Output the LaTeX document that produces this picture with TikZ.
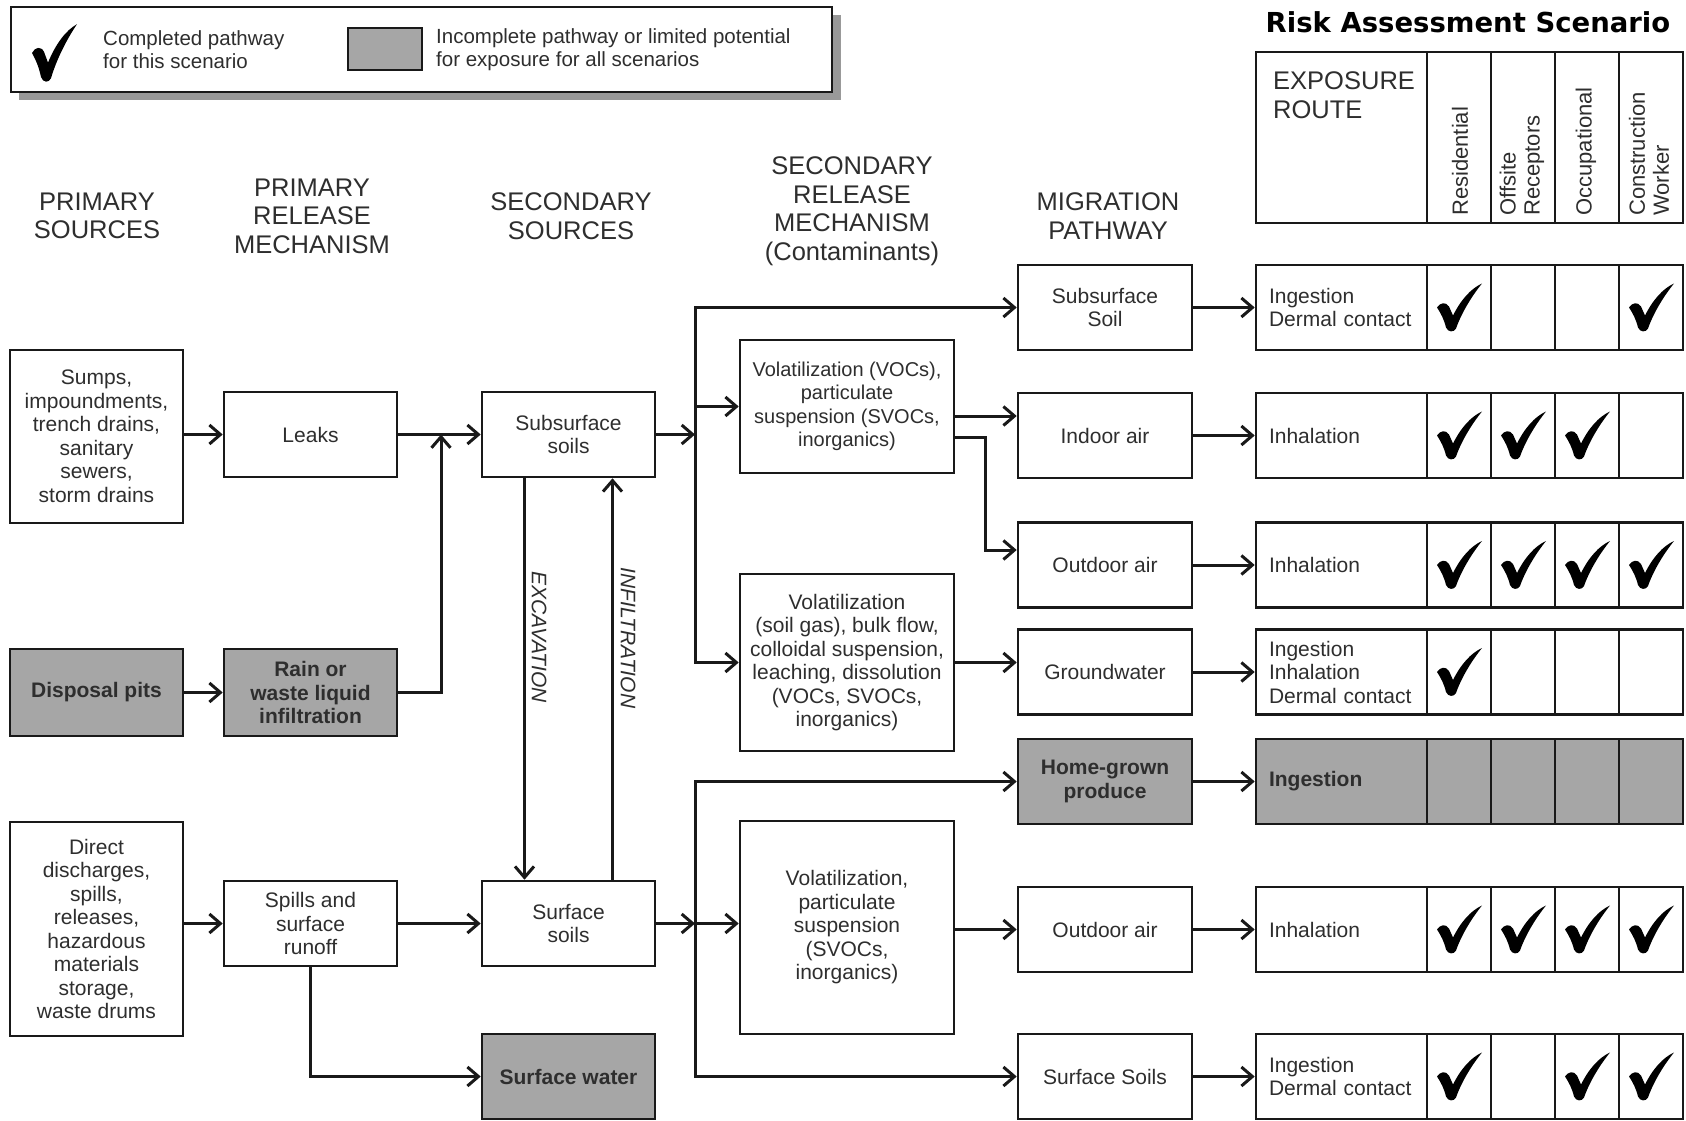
\documentclass[tikz,border=0pt]{standalone}
\usepackage{fontspec}
\setmainfont{Liberation Sans}
\newfontfamily\titlefont{DejaVu Sans}
\usetikzlibrary{arrows.meta}

\definecolor{pitgray}{HTML}{A6A6A6}
\definecolor{inkgray}{HTML}{2E2E2E}

\tikzset{
  chk/.pic={
    \fill[black] (-22,0) .. controls (-19,-5) and (-13,-6) .. (-10,-1)
      -- (-6,8) .. controls (2,-8) and (12,-19) .. (23,-24)
      .. controls (14,-13) and (3,4) .. (-3,21)
      .. controls (-5,25) and (-11,25) .. (-13,20)
      .. controls (-15,12) and (-18,6) .. (-22,0) -- cycle;
  }
}

\begin{document}
\begin{tikzpicture}[x=1pt, y=-1pt,
    box/.style={draw=black!90, line width=2.6pt, minimum width=173pt, minimum height=85pt, inner sep=1pt, align=center, text=inkgray, font=\fontsize{21pt}{23.5pt}\selectfont},
    shaded/.style={box, fill=pitgray, font=\fontsize{21pt}{23.5pt}\selectfont\bfseries},
    wide/.style={box, minimum width=214pt},
    route/.style={box, minimum width=171pt, text width=145pt, inner xsep=13pt, align=left},
    cell/.style={draw=black!90, line width=2.6pt, minimum width=64pt, minimum height=85pt, inner sep=0pt},
    head/.style={align=center, inner sep=0pt, text=inkgray, font=\fontsize{25.5pt}{28.5pt}\selectfont},
    colhead/.style={rotate=90, anchor=west, align=left, inner sep=0pt, text=inkgray, font=\fontsize{22pt}{24pt}\selectfont},
    note/.style={anchor=west, align=left, inner sep=0pt, text=inkgray, font=\fontsize{20.5pt}{23pt}\selectfont},
    tag/.style={rotate=-90, inner sep=0pt, text=inkgray, font=\fontsize{21pt}{23.5pt}\selectfont\itshape},
    arrow/.style={-{Straight Barb[length=11pt,width=19pt]}, line width=3pt, draw=black!90}
]
    \fill[white] (0,0) rectangle (1686,1120);
    \useasboundingbox (0,0) rectangle (1686,1120);

    % legend
    \fill[black!40] (19,15) rectangle (841,100);
    \draw[line width=2.6pt, draw=black!90, fill=white] (11,7) rectangle (832,92);
    \pic[yscale=1.2] at (54,53) {chk};
    \node[note] (lgdcheck) at (103,50) {Completed pathway\\for this scenario};
    \node[box, fill=pitgray, minimum width=74pt, minimum height=42pt] (lgdkey) at (385,49) {};
    \node[note] (lgdgrey) at (436,50) {Incomplete pathway or limited potential\\for exposure for all scenarios};

    % scenario header
    \node[inner sep=0pt, font=\fontsize{27.5pt}{30pt}\titlefont\bfseries] (title) at (1468,22) {Risk Assessment Scenario};
    \draw[line width=2.6pt, draw=black!90] (1256,52) rectangle (1683,223);
    \foreach \x in {1427,1491,1555,1619}
        \draw[line width=2.6pt, draw=black!90] (\x,52) -- (\x,223);
    \node[head, anchor=west, align=left] (exproute) at (1273,95) {EXPOSURE\\ROUTE};
    \node[colhead] (hres) at (1460,216) {Residential};
    \node[colhead] (hoff) at (1522,216) {Offsite\\Receptors};
    \node[colhead] (hocc) at (1586,216) {Occupational};
    \node[colhead] (hcon) at (1649,216) {Construction\\Worker};

    % column titles
    \node[head] (hps) at (97,216) {PRIMARY\\SOURCES};
    \node[head] (hprm) at (312,216) {PRIMARY\\RELEASE\\MECHANISM};
    \node[head] (hss) at (571,216) {SECONDARY\\SOURCES};
    \node[head] (hsrm) at (852,211) {SECONDARY\\RELEASE\\MECHANISM\\(Contaminants)};
    \node[head] (hmig) at (1108,216) {MIGRATION\\PATHWAY};

    % sources and mechanisms
    \node[box, minimum height=173pt] (sumps) at (96.5,436.5) {Sumps,\\impoundments,\\trench drains,\\sanitary\\sewers,\\storm drains};
    \node[shaded, minimum height=87pt] (pits) at (96.5,692.5) {Disposal pits};
    \node[box, minimum height=214pt] (direct) at (96.5,929) {Direct\\discharges,\\spills,\\releases,\\hazardous\\materials\\storage,\\waste drums};
    \node[box] (leaks) at (310.5,434.5) {Leaks};
    \node[shaded, minimum height=87pt] (rain) at (310.5,692.5) {Rain or\\waste liquid\\infiltration};
    \node[box] (spills) at (310.5,923.5) {Spills and\\surface\\runoff};
    \node[box] (subsoil) at (568.5,434.5) {Subsurface\\soils};
    \node[box] (surfsoil) at (568.5,923.5) {Surface\\soils};
    \node[shaded] (water) at (568.5,1076.5) {Surface water};
    \node[wide, minimum height=133pt, font=\fontsize{20pt}{23.5pt}\selectfont] (volA) at (847,406.5) {Volatilization (VOCs),\\particulate\\suspension (SVOCs,\\inorganics)};
    \node[wide, minimum height=177pt] (volB) at (847,662.5) {Volatilization\\(soil gas), bulk flow,\\colloidal suspension,\\leaching, dissolution\\(VOCs, SVOCs,\\inorganics)};
    \node[wide, minimum height=213pt] (volC) at (847,927.5) {Volatilization,\\particulate\\suspension\\(SVOCs,\\inorganics)};

    % migration pathways
    \node[box, minimum width=174pt] (mss) at (1105,307.5) {Subsurface\\Soil};
    \node[box, minimum width=174pt] (indoor) at (1105,435.5) {Indoor air};
    \node[box, minimum width=174pt] (out1) at (1105,565) {Outdoor air};
    \node[box, minimum width=174pt] (gw) at (1105,672) {Groundwater};
    \node[shaded, minimum width=174pt] (home) at (1105,781.5) {Home-grown\\produce};
    \node[box, minimum width=174pt] (out2) at (1105,929.5) {Outdoor air};
    \node[box, minimum width=174pt] (mss2) at (1105,1076.5) {Surface Soils};

    % exposure routes
    \node[route] (r1) at (1341.5,307.5) {Ingestion\\Dermal contact};
    \node[route] (r2) at (1341.5,435.5) {Inhalation};
    \node[route] (r3) at (1341.5,565) {Inhalation};
    \node[route] (r4) at (1341.5,672) {Ingestion\\Inhalation\\Dermal contact};
    \node[route, fill=pitgray, font=\fontsize{21pt}{23.5pt}\selectfont\bfseries] (r5) at (1341.5,781.5) {Ingestion};
    \node[route] (r6) at (1341.5,929.5) {Inhalation};
    \node[route] (r7) at (1341.5,1076.5) {Ingestion\\Dermal contact};
    \foreach \r/\fl/\marks in {1/white/{1,0,0,1}, 2/white/{1,1,1,0}, 3/white/{1,1,1,1}, 4/white/{1,0,0,0}, 5/pitgray/{0,0,0,0}, 6/white/{1,1,1,1}, 7/white/{1,0,1,1}}
        \foreach \m [count=\c] in \marks {
            \pgfmathsetmacro\cx{1395+64*\c}
            \node[cell, fill=\fl] (r\r-\c) at (\cx,0 |- r\r) {};
            \ifnum\m=1 \pic at (r\r-\c) {chk};\fi
        }

    % connectors
    \coordinate (jA) at (441,434.5);
    \coordinate (tA) at (695,434.5);
    \coordinate (tB) at (695,923.5);
    \draw[arrow] (sumps.east |- leaks.west) -- (leaks.west);
    \draw[arrow] (leaks) -- (subsoil);
    \draw[arrow] (pits) -- (rain);
    \draw[arrow] (rain.east) -| (jA);
    \draw[arrow] (direct.east |- spills.west) -- (spills.west);
    \draw[arrow] (spills) -- (surfsoil);
    \draw[arrow] (spills.south) |- (water.west);
    \draw[arrow] ([xshift=-44pt]subsoil.south) -- ([xshift=-44pt]surfsoil.north);
    \draw[arrow] ([xshift=44pt]surfsoil.north) -- ([xshift=44pt]subsoil.south);
    \node[tag] (excav) at (539,637) {EXCAVATION};
    \node[tag] (infil) at (628,638) {INFILTRATION};

    \draw[arrow] (subsoil) -- (tA);
    \draw[arrow] (tA) |- (mss.west);
    \draw[arrow] (tA |- volA.west) -- (volA.west);
    \draw[arrow] (tA) |- (volB.west);
    \draw[arrow] ([yshift=-9.5pt]volA.east) -- ([yshift=19.5pt]indoor.west);
    \draw[arrow] ([yshift=-30.5pt]volA.east) -- ++(30,0) |- ([yshift=15pt]out1.west);
    \draw[arrow] (volB.east) -- (volB.east -| gw.west);
    \draw[arrow] (surfsoil) -- (tB);
    \draw[arrow] (tB) |- (home.west);
    \draw[arrow] (tB) -- (tB -| volC.west);
    \draw[arrow] (tB) |- (mss2.west);
    \draw[arrow] (volC.east |- out2.west) -- (out2.west);

    \foreach \m/\r in {mss/r1, indoor/r2, out1/r3, gw/r4, home/r5, out2/r6, mss2/r7}
        \draw[arrow] (\m) -- (\r);
\end{tikzpicture}
\end{document}
